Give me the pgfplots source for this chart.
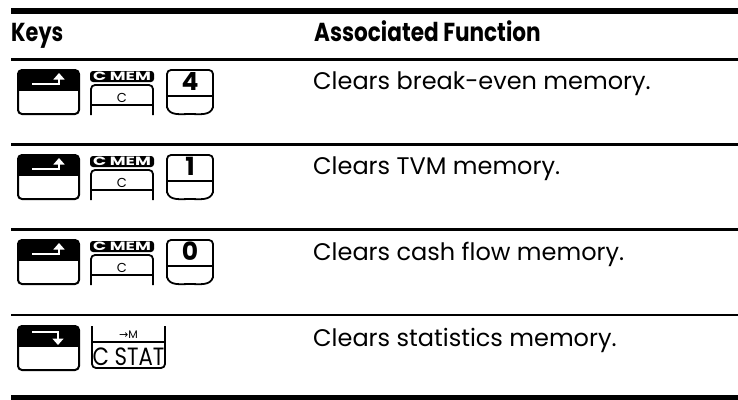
\documentclass[border=0pt]{standalone}
\usepackage{fontspec}
\setmainfont{Poppins}
\newfontfamily\dv{DejaVu Sans}
\usepackage{pgfplots}
\pgfplotsset{compat=1.18}
\usetikzlibrary{arrows.meta}

\newcommand{\bodyfont}{\fontsize{24bp}{28bp}\selectfont}
\newcommand{\headfont}{\fontsize{26bp}{30bp}\selectfont\bfseries}

% shift keys
\newcommand{\shiftkey}[2]{%
  \begin{scope}
    \clip[rounded corners=4bp] (axis cs:18,#1) rectangle (axis cs:79,#1+44);
    \fill[black] (axis cs:18,#1) rectangle (axis cs:79,#1+21);
  \end{scope}
  \draw[line width=2bp, rounded corners=4bp] (axis cs:18,#1) rectangle (axis cs:79,#1+44);
  \ifnum#2=1
    \draw[white, line width=2.8bp, -{Triangle[width=11bp,length=6.5bp]}] (axis cs:32,#1+14) -- (axis cs:59,#1+14) -- (axis cs:59,#1+3);
  \else
    \draw[white, line width=2.8bp, -{Triangle[width=11bp,length=6.5bp]}] (axis cs:32,#1+6) -- (axis cs:58,#1+6) -- (axis cs:58,#1+19);
  \fi
}
\newcommand{\cmemkey}[1]{%
  \fill[black, rounded corners=3bp] (axis cs:90,#1+1) rectangle (axis cs:154,#1+12);
  \node[white, inner sep=0pt, anchor=base] at (axis cs:122,#1+10.5) {\fontsize{15bp}{15bp}\selectfont\bfseries\scalebox{1.15}[0.8]{C MEM}};
  \draw[line width=1.8bp, rounded corners=4bp] (axis cs:91,#1+45) -- (axis cs:91,#1+15) -- (axis cs:153,#1+15) -- (axis cs:153,#1+45);
  \draw[line width=1.8bp] (axis cs:91,#1+35) -- (axis cs:153,#1+35);
  \node[inner sep=0pt, anchor=base] at (axis cs:122,#1+32.5) {\fontsize{13bp}{13bp}\selectfont C};
}
\newcommand{\digitkey}[2]{%
  \draw[line width=1.8bp, rounded corners=4bp] (axis cs:167,#1+38) -- (axis cs:167,#1) -- (axis cs:213,#1) -- (axis cs:213,#1+38);
  \draw[line width=1.8bp] (axis cs:167,#1+37) to[out=-75,in=180] (axis cs:190,#1+44) to[out=0,in=-105] (axis cs:213,#1+37);
  \draw[line width=1.8bp] (axis cs:167,#1+26) -- (axis cs:213,#1+26);
  \node[inner sep=0pt, anchor=base] at (axis cs:190,#1+20) {\fontsize{25bp}{25bp}\selectfont\bfseries #2};
}

\begin{document}
\begin{tikzpicture}
\begin{axis}[
  at={(0,0)}, anchor=south west,
  width=738bp, height=400bp, scale only axis,
  xmin=0, xmax=738, ymin=0, ymax=400,
  y dir=reverse,
  hide axis, clip=false,
]
% horizontal rules
\addplot[black, line width=6bp, line cap=butt] coordinates {(11,10.5) (738,10.5)};
\addplot[black, line width=3.5bp, line cap=butt] coordinates {(11,59.3) (738,59.3)};
\addplot[black, line width=2.3bp, line cap=butt] coordinates {(11,144.5) (738,144.5)};
\addplot[black, line width=2.3bp, line cap=butt] coordinates {(11,229.5) (738,229.5)};
\addplot[black, line width=2.3bp, line cap=butt] coordinates {(11,315) (738,315)};
\addplot[black, line width=5bp, line cap=butt] coordinates {(11,397.5) (738,397.5)};

% headers
\node[inner sep=0pt, anchor=base west] at (axis cs:11,41) {\headfont\scalebox{0.8}[1]{Keys}};
\node[inner sep=0pt, anchor=base west] at (axis cs:314,41) {\headfont\scalebox{0.83}[1]{Associated Function}};

% descriptions
\node[inner sep=0pt, anchor=base west] at (axis cs:313,89) {\bodyfont Clears break-even memory.};
\node[inner sep=0pt, anchor=base west] at (axis cs:313,174) {\bodyfont Clears TVM memory.};
\node[inner sep=0pt, anchor=base west] at (axis cs:313,260) {\bodyfont Clears cash flow memory.};
\node[inner sep=0pt, anchor=base west] at (axis cs:313,346) {\bodyfont Clears statistics memory.};

% keys
\shiftkey{70}{1}\cmemkey{70}\digitkey{70}{4}
\shiftkey{155}{1}\cmemkey{155}\digitkey{155}{1}
\shiftkey{240}{1}\cmemkey{240}\digitkey{240}{0}
\shiftkey{326}{2}
% C STAT key
\draw[line width=1.8bp, rounded corners=4bp] (axis cs:92,326) -- (axis cs:92,368) -- (axis cs:165,368) -- (axis cs:165,326);
\draw[line width=1.8bp] (axis cs:92,342) -- (axis cs:165,342);
\node[inner sep=0pt, anchor=base] at (axis cs:128.5,338) {\fontsize{11bp}{11bp}\selectfont{\dv →}M};
\node[inner sep=0pt, anchor=base] at (axis cs:128.5,365) {\fontsize{25bp}{25bp}\selectfont\scalebox{0.85}[1]{C STAT}};

\coordinate (bbsw) at (axis cs:0,400);
\coordinate (bbne) at (axis cs:738,0);
\end{axis}
\pgfresetboundingbox
\path (bbsw) rectangle (bbne);
\end{tikzpicture}
\end{document}
